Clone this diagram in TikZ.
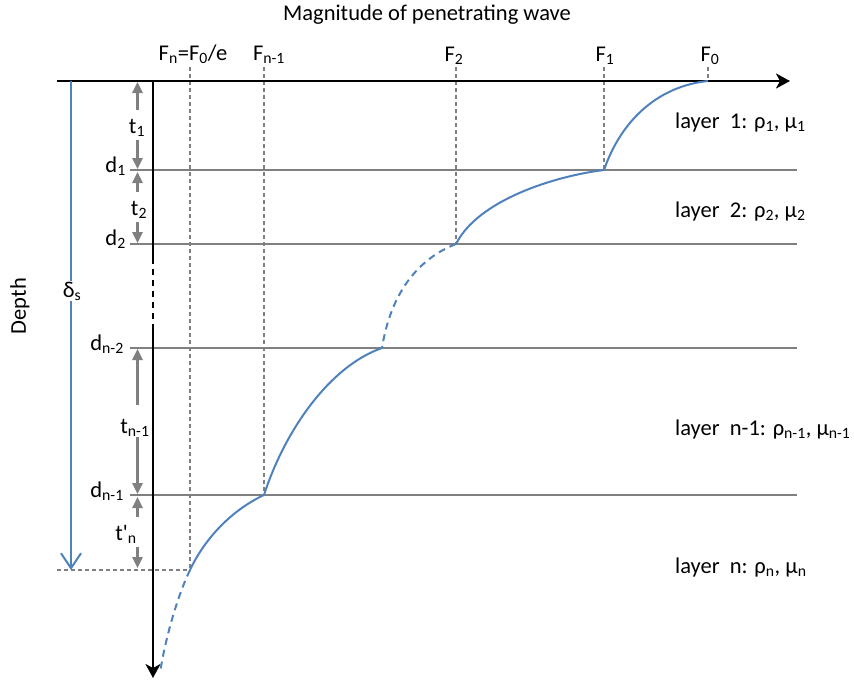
\documentclass[tikz,border=0pt]{standalone}
\usepackage{fontspec}
\setmainfont{Carlito}
\usetikzlibrary{arrows.meta}
\definecolor{cblue}{RGB}{79,129,189}
\definecolor{cgray}{RGB}{128,128,128}
\newcommand\lo[1]{\textsubscript{#1}}
\tikzset{
  axisline/.style={line width=2.5pt, black},
  axistip/.style={-{Stealth[length=14pt,width=15pt,inset=4pt]}},
  layerline/.style={cgray, line width=2pt},
  guide/.style={cgray, line width=1.5pt, dash pattern=on 4pt off 3pt},
  wave/.style={cblue, line width=2pt},
  wavedash/.style={wave, dash pattern=on 7pt off 5pt},
  dimarrow/.style={cgray, line width=2.5pt, -{Triangle[length=11pt,width=10pt]}},
  lbl/.style={inner sep=0pt, anchor=base},
  rlbl/.style={inner sep=0pt, anchor=base east},
  llbl/.style={inner sep=0pt, anchor=base west},
}
\begin{document}
\begin{tikzpicture}[x=1pt,y=-1pt,font=\fontsize{22.5}{26}\selectfont]
\useasboundingbox (0,0) rectangle (854,681);

% title
\node[lbl] (title) at (427,20) {Magnitude of penetrating wave};
\node[inner sep=0pt, rotate=90] (depth) at (20,306) {Depth};

% layer lines
\foreach \n/\yy in {d1/170, d2/244, dm/348, dn/495}{
  \coordinate (L\n) at (130,\yy);
  \coordinate (R\n) at (797,\yy);
  \draw[layerline] (L\n) -- (R\n);
}

% curve points
\coordinate (P0) at (708,81);
\coordinate (P1) at (604,170);
\coordinate (P2) at (456,244);
\coordinate (P3) at (382,348);
\coordinate (P4) at (264,495);
\coordinate (P5) at (190,570);
\coordinate (P6) at (160,673);

% guide tops
\coordinate (G0) at (708,67);
\coordinate (G1) at (604,67);
\coordinate (G2) at (456,67);
\coordinate (G4) at (264,67);
\coordinate (G5) at (190,67);
\coordinate (H5) at (57,570);

\draw[guide] (G0) -- (P0);
\draw[guide] (G1) -- (P1);
\draw[guide] (G2) -- (P2);
\draw[guide] (G4) -- (P4);
\draw[guide] (G5) -- (P5);
\draw[guide] (H5) -- (P5);

% axes
\coordinate (O) at (57,81);
\coordinate (Xend) at (790,81);
\draw[axisline,axistip] (O) -- (Xend);
\coordinate (V0) at (153,81);
\coordinate (V1) at (153,258);
\coordinate (V2) at (153,328);
\coordinate (V3) at (153,678);
\draw[axisline] (V0) -- (V1);
\draw[axisline, dash pattern=on 6pt off 5pt] (V1) -- (V2);
\draw[axisline,axistip] (V2) -- (V3);

% F labels
\node[lbl] (Fn) at (193,60) {F\lo{n}=F\lo{0}/e};
\node[lbl] (Fn1) at (269,60) {F\lo{n-1}};
\node[lbl] (F2) at (454,61) {F\lo{2}};
\node[lbl] (F1) at (605,61) {F\lo{1}};
\node[lbl] (F0) at (710,61) {F\lo{0}};

% wave
\draw[wave] (P0) .. controls (660,86) and (622,118) .. (P1);
\draw[wave] (P1) .. controls (555,176) and (478,200) .. (P2);
\draw[wavedash] (P2) .. controls (425,256) and (392,285) .. (P3);
\draw[wave] (P3) .. controls (330,366) and (285,430) .. (P4);
\draw[wave] (P4) .. controls (232,510) and (205,538) .. (P5);
\draw[wavedash] (P5) .. controls (177,597) and (165,640) .. (P6);

% depth arrow
\coordinate (D0) at (71,81);
\coordinate (D1) at (71,570);
\draw[cblue, line width=2pt, -{Straight Barb[length=15pt,width=20pt]}] (D0) -- (D1);
\node[lbl, fill=white, inner sep=1pt] (ds) at (72,297) {δ\lo{s}};

% dimension arrows
\foreach \a/\b in {110/82, 140/169, 192/172, 222/243, 405/349, 437/494, 517/497, 547/568}{
  \coordinate (s\a) at (137.5,\a);
  \coordinate (e\a) at (137.5,\b);
  \draw[dimarrow] (s\a) -- (e\a);
}

% left labels
\node[lbl] (t1) at (137,133) {t\lo{1}};
\node[lbl] (t2) at (139,215) {t\lo{2}};
\node[lbl] (tn1) at (135,433) {t\lo{n-1}};
\node[lbl] (tn) at (126,540) {t\textquotesingle\lo{n}};
\node[rlbl] (d1) at (126,172) {d\lo{1}};
\node[rlbl] (d2) at (126,245) {d\lo{2}};
\node[rlbl] (dm) at (124,350) {d\lo{n-2}};
\node[rlbl] (dn) at (124,497) {d\lo{n-1}};

% layer labels
\node[llbl] (lay1) at (675,128) {layer\ \ 1: ρ\lo{1}, μ\lo{1}};
\node[llbl] (lay2) at (675,217) {layer\ \ 2: ρ\lo{2}, μ\lo{2}};
\node[llbl] (laym) at (675,435) {layer\ \ n-1: ρ\lo{n-1}, μ\lo{n-1}};
\node[llbl] (layn) at (675,573) {layer\ \ n: ρ\lo{n}, μ\lo{n}};
\end{tikzpicture}
\end{document}
